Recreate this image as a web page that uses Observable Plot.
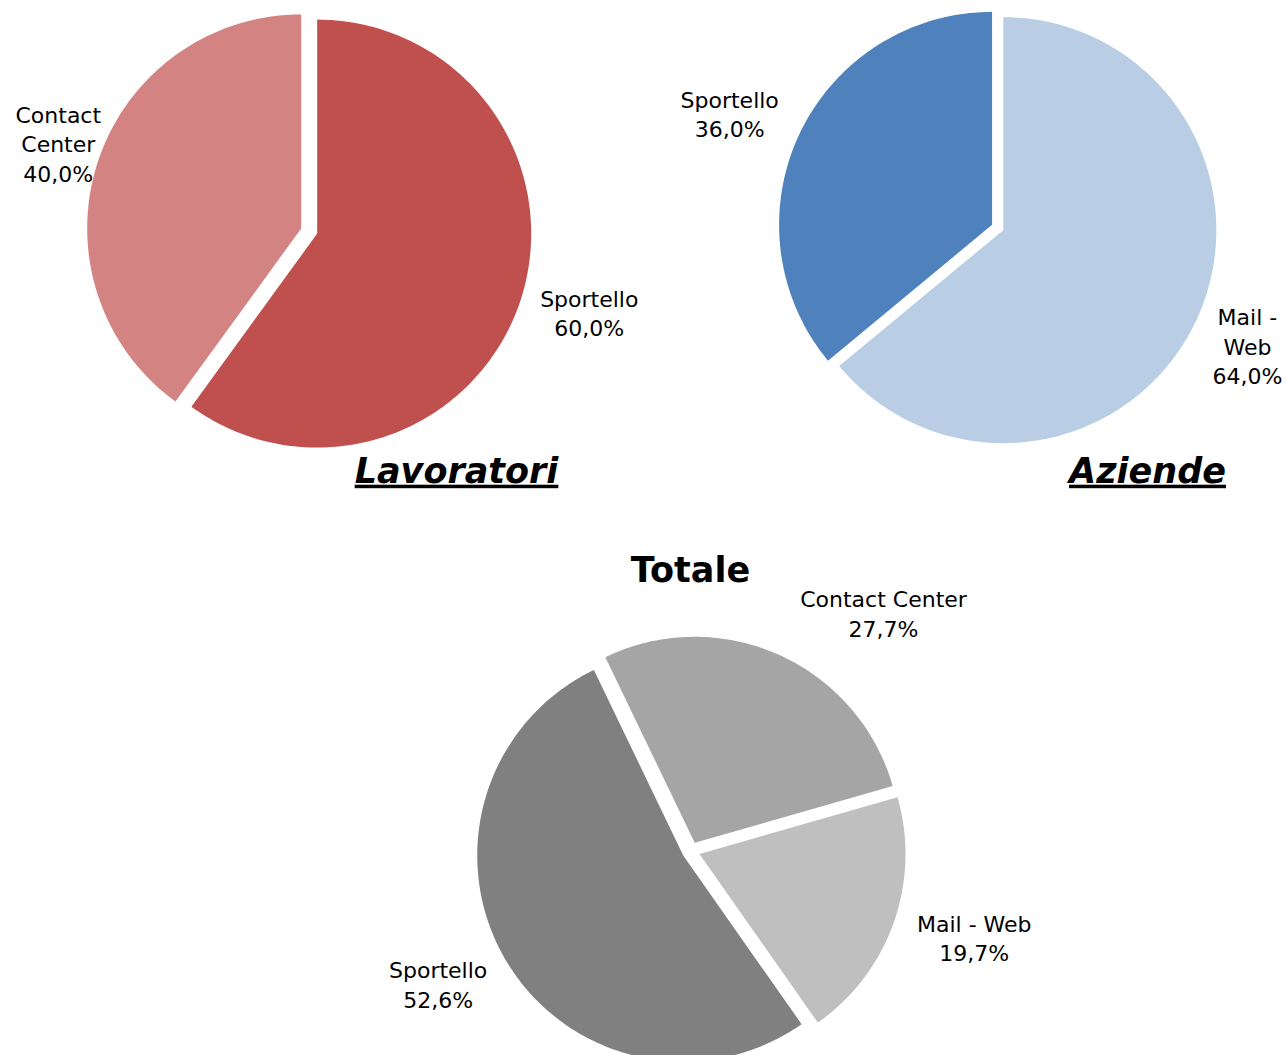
<!DOCTYPE html>
<html><head><meta charset="utf-8">
<script src="https://cdn.jsdelivr.net/npm/d3@7"></script>
<script src="https://cdn.jsdelivr.net/npm/@observablehq/plot@0.6"></script>
<style>html,body{margin:0;padding:0;background:#fff}</style>
</head><body><div id="chart"></div>
<script>
// ---- data ----
const lavCategories = ["Sportello", "Contact Center"];
const lavValues = [60.0, 40.0];
const azCategories = ["Mail - Web", "Sportello"];
const azValues = [64.0, 36.0];
const totCategories = ["Contact Center", "Mail - Web", "Sportello"];
const totValues = [27.7, 19.7, 52.6];
const titles = ["Lavoratori", "Aziende", "Totale"];

// ---- layout / style ----
const W = 1286, H = 1055;
const charts = [
  {cats: lavCategories, vals: lavValues, title: titles[0],
   cx: 308.7, cy: 230.5, r: 214, explode: 8.4, start: 0,
   colors: ["#C0504D", "#D38381"],
   tpos: {x: 456, y: 471, italic: true, underline: true},
   lab: [{nudge: -1.5, k: 1.365, wrap: false}, {nudge: 1, k: 1.24, wrap: true}]},
  {cats: azCategories, vals: azValues, title: titles[1],
   cx: 997.2, cy: 227, r: 213, explode: 6.2, start: 0,
   colors: ["#B9CDE5", "#4F81BD"],
   tpos: {x: 1147, y: 471, italic: true, underline: true},
   lab: [{nudge: 0.4, k: 1.30, wrap: true}, {nudge: -2.4, k: 1.365, wrap: false}]},
  {cats: totCategories, vals: totValues, title: titles[2],
   cx: 690.5, cy: 850.5, r: 206, explode: 9, start: -25.7,
   colors: ["#A5A5A5", "#BFBFBF", "#808080"],
   tpos: {x: 690, y: 570, italic: false, underline: false},
   lab: [{nudge: 15, k: 1.48, wrap: false}, {nudge: -2.2, k: 1.44, wrap: false}, {nudge: 2.4, k: 1.39, wrap: false}]}
];

const fmt = v => v.toFixed(1).replace(".", ",") + "%";
function wrapText(s, maxChars) {
  const words = s.split(" ");
  const lines = [];
  let cur = "";
  for (const w of words) {
    if (cur && (cur + " " + w).length > maxChars) { lines.push(cur); cur = w; }
    else cur = cur ? cur + " " + w : w;
  }
  if (cur) lines.push(cur);
  return lines.join("\n");
}

const slicePts = [];
const labels = [];
const titleRows = [];
const colorDomain = [], colorRange = [];
const RAD = Math.PI / 180;

charts.forEach((c, ci) => {
  const arcs = d3.pie().sort(null).startAngle(c.start * RAD).endAngle(c.start * RAD + 2 * Math.PI)(c.vals);
  arcs.forEach((a, i) => {
    const key = c.title + " – " + c.cats[i];
    colorDomain.push(key); colorRange.push(c.colors[i]);
    const mid = (a.startAngle + a.endAngle) / 2;
    const vx = c.cx + c.explode * Math.sin(mid);
    const vy = c.cy - c.explode * Math.cos(mid);
    slicePts.push({key, x: vx, y: vy});
    const n = Math.max(2, Math.ceil((a.endAngle - a.startAngle) / RAD));
    for (let j = 0; j <= n; j++) {
      const t = a.startAngle + (a.endAngle - a.startAngle) * j / n;
      slicePts.push({key, x: vx + c.r * Math.sin(t), y: vy - c.r * Math.cos(t)});
    }
    const L = c.lab[i];
    const la = mid + L.nudge * RAD;
    const name = L.wrap ? wrapText(c.cats[i], 7) : c.cats[i];
    labels.push({x: c.cx + c.r * L.k * Math.sin(la), y: c.cy - c.r * L.k * Math.cos(la), text: name + "\n" + fmt(c.vals[i])});
  });
  titleRows.push({x: c.tpos.x, y: c.tpos.y, text: c.title, italic: c.tpos.italic});
});

const plot = Plot.plot({
  width: W, height: H,
  margin: 0,
  x: {domain: [0, W], range: [0, W], axis: null},
  y: {domain: [0, H], range: [0, H], axis: null},
  color: {type: "ordinal", domain: colorDomain, range: colorRange},
  style: {fontFamily: "DejaVu Sans", background: "#fff", color: "#000"},
  marks: [
    Plot.line(slicePts, {x: "x", y: "y", z: "key", fill: "key", stroke: null, curve: "linear-closed"}),
    Plot.text(labels, {x: "x", y: "y", dy: -2, text: "text", fontSize: 22, lineHeight: 1.34, lineAnchor: "middle", textAnchor: "middle", fill: "#000"}),
    Plot.text(titleRows.filter(d => d.italic), {x: "x", y: "y", text: "text", fontSize: 35, fontWeight: "bold", fontStyle: "italic", lineAnchor: "middle", textAnchor: "middle", fill: "#000"}),
    Plot.text(titleRows.filter(d => !d.italic), {x: "x", y: "y", text: "text", fontSize: 35, fontWeight: "bold", lineAnchor: "middle", textAnchor: "middle", fill: "#000"})
  ]
});
d3.select(plot).selectAll("text").filter(function() {
  return this.textContent === titles[0] || this.textContent === titles[1];
}).style("text-decoration", "underline").style("text-decoration-thickness", "3px");
document.getElementById("chart").appendChild(plot);
</script>
</body></html>
